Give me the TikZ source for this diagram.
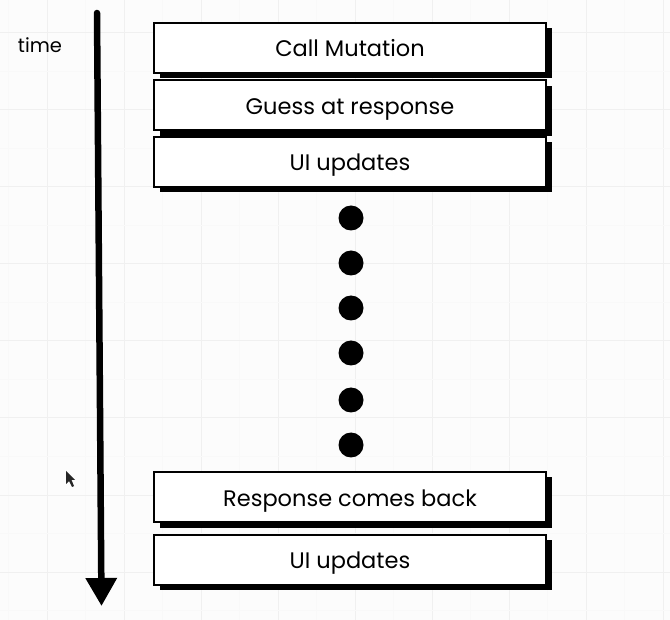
\documentclass[tikz,border=0pt]{standalone}
\usepackage{fontspec}
\setmainfont{Poppins}
\usetikzlibrary{arrows.meta,shadows}
\begin{document}
\begin{tikzpicture}[x=1pt,y=-1pt,
  stepbox/.style={draw=black, line width=2pt, fill=white,
    minimum width=392pt, minimum height=50pt, inner sep=0pt,
    text height=18pt, text depth=0pt,
    font=\fontsize{22.5}{26}\selectfont,
    drop shadow={shadow xshift=5.5pt, shadow yshift=-5.5pt, fill=black, opacity=1}},
  dot/.style={circle, fill=black, minimum size=25pt, inner sep=0pt},
  majorgrid/.style={draw=black!6, line width=1pt},
  minorgrid/.style={draw=black!2.5, line width=0.8pt},
  timearrow/.style={line width=6.5pt, line cap=round, -{Triangle[length=28pt,width=30pt]}}
]
\useasboundingbox (0,0) rectangle (670,620);
\fill[black!1] (0,0) rectangle (670,620);
% grid
\foreach \k in {0,...,8} {
  \draw[minorgrid] ({8.5+77*\k},0) -- ({8.5+77*\k},620);
  \draw[majorgrid] ({47+77*\k},0) -- ({47+77*\k},620);
}
\foreach \k in {0,...,8} {
  \draw[minorgrid] (0,{-5.5+77*\k}) -- (670,{-5.5+77*\k});
  \draw[majorgrid] (0,{33+77*\k}) -- (670,{33+77*\k});
}
% time arrow
\node[font=\fontsize{19.5}{23}\selectfont] (timelbl) at (40,45) {time};
\coordinate (ttop) at (97,13);
\coordinate (ttip) at (101.5,606);
\draw[timearrow] (ttop) -- (ttip);
% boxes
\node[stepbox] (b1) at (350,48) {Call Mutation};
\node[stepbox] (b2) at (350,105.5) {Guess at response};
\node[stepbox] (b3) at (350,162) {UI updates};
\node[stepbox] (b4) at (350,497) {Response comes back};
\node[stepbox] (b5) at (350,559.5) {UI updates};
% dots
\foreach \y/\n in {218/1,263/2,308/3,353/4,400/5,445/6}
  \node[dot] (d\n) at (351,\y) {};
% mouse pointer
\fill[black!85] (66,471) -- (66,484) -- (69,481) -- (72,487) -- (74,486) -- (71.5,480) -- (75,480) -- cycle;
\end{tikzpicture}
\end{document}
